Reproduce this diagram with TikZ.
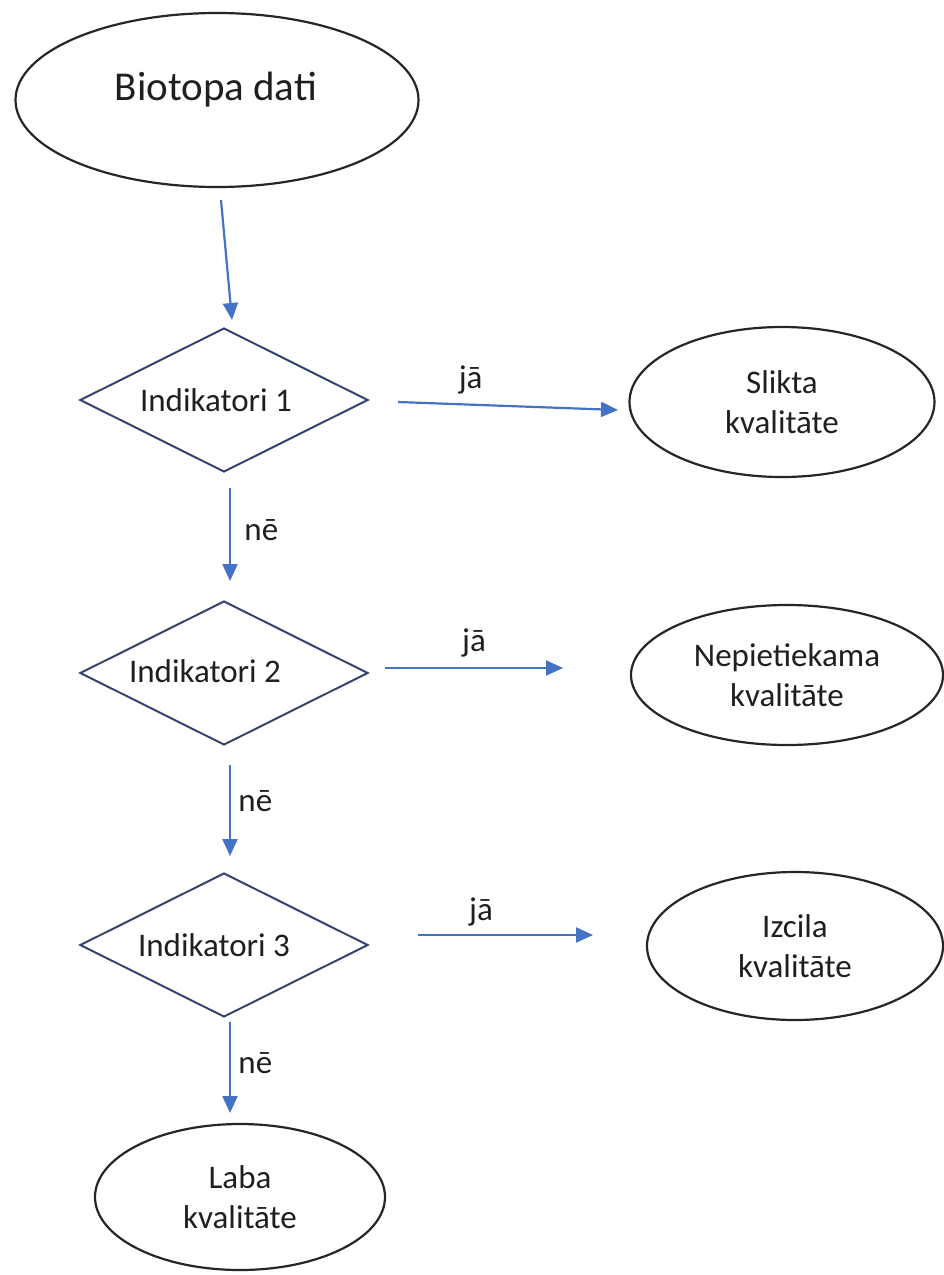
\documentclass[tikz,border=0pt]{standalone}
\usepackage{fontspec}
\setmainfont{Carlito}
\usetikzlibrary{shapes.geometric,arrows.meta}
\definecolor{arrblue}{HTML}{4472C4}
\definecolor{dmdline}{HTML}{34456B}
\definecolor{txt}{HTML}{1F1F1F}
\tikzset{
  ell/.style={ellipse, draw=black!85, line width=2.2pt, inner sep=0pt},
  dmd/.style={diamond, draw=dmdline, line width=2pt, inner sep=0pt, minimum width=288pt, minimum height=144pt},
  lbl/.style={text=txt, font=\fontsize{33}{40}\selectfont, align=center},
  big/.style={text=txt, font=\fontsize{41}{48}\selectfont},
  conn/.style={draw=arrblue, line width=2.2pt, -{Triangle[length=17pt,width=15pt]}},
}
\begin{document}
\begin{tikzpicture}[x=1pt,y=-1pt]
\useasboundingbox (0,0) rectangle (943,1275);
% start
\node[ell, minimum width=403pt, minimum height=174pt] (bio) at (217,100) {};
\node[big, anchor=base] (biot) at (216,100) {Biotopa dati};
% decisions
\node[dmd] (d1) at (224,400) {};
\node[lbl] (d1t) at (216,400) {Indikatori 1};
\node[dmd] (d2) at (224,673) {};
\node[lbl] (d2t) at (205,671) {Indikatori 2};
\node[dmd] (d3) at (224,945) {};
\node[lbl] (d3t) at (214,945) {Indikatori 3};
% outcomes
\node[ell, lbl, minimum width=305pt, minimum height=150pt] (slikta) at (782,402) {Slikta\\kvalitāte};
\node[ell, lbl, minimum width=312pt, minimum height=140pt] (nep) at (787,675) {Nepietiekama\\kvalitāte};
\node[ell, lbl, minimum width=296pt, minimum height=148pt] (izc) at (795,946) {Izcila\\kvalitāte};
\node[ell, lbl, minimum width=290pt, minimum height=146pt] (laba) at (240,1197) {Laba\\kvalitāte};
% connector ends
\coordinate (a0s) at (221,200); \coordinate (a0e) at (232,320);
\coordinate (j1s) at (398,402); \coordinate (j1e) at (618,410);
\coordinate (n1s) at (230,488); \coordinate (n1e) at (230,581);
\coordinate (j2s) at (385,668); \coordinate (j2e) at (563,668);
\coordinate (n2s) at (230,765); \coordinate (n2e) at (230,856);
\coordinate (j3s) at (418,935); \coordinate (j3e) at (593,935);
\coordinate (n3s) at (230,1022); \coordinate (n3e) at (230,1113);
\draw[conn] (a0s) -- (a0e);
\draw[conn] (j1s) -- node[lbl, above=6pt, pos=0.33] (j1l) {jā} (j1e);
\draw[conn] (n1s) -- node[lbl, right=10pt, pos=0.45] (n1l) {nē} (n1e);
\draw[conn] (j2s) -- node[lbl, above=6pt, pos=0.5] (j2l) {jā} (j2e);
\draw[conn] (n2s) -- node[lbl, right=4pt, pos=0.4] (n2l) {nē} (n2e);
\draw[conn] (j3s) -- node[lbl, above=4pt, pos=0.36] (j3l) {jā} (j3e);
\draw[conn] (n3s) -- node[lbl, right=4pt, pos=0.45] (n3l) {nē} (n3e);
\end{tikzpicture}
\end{document}
